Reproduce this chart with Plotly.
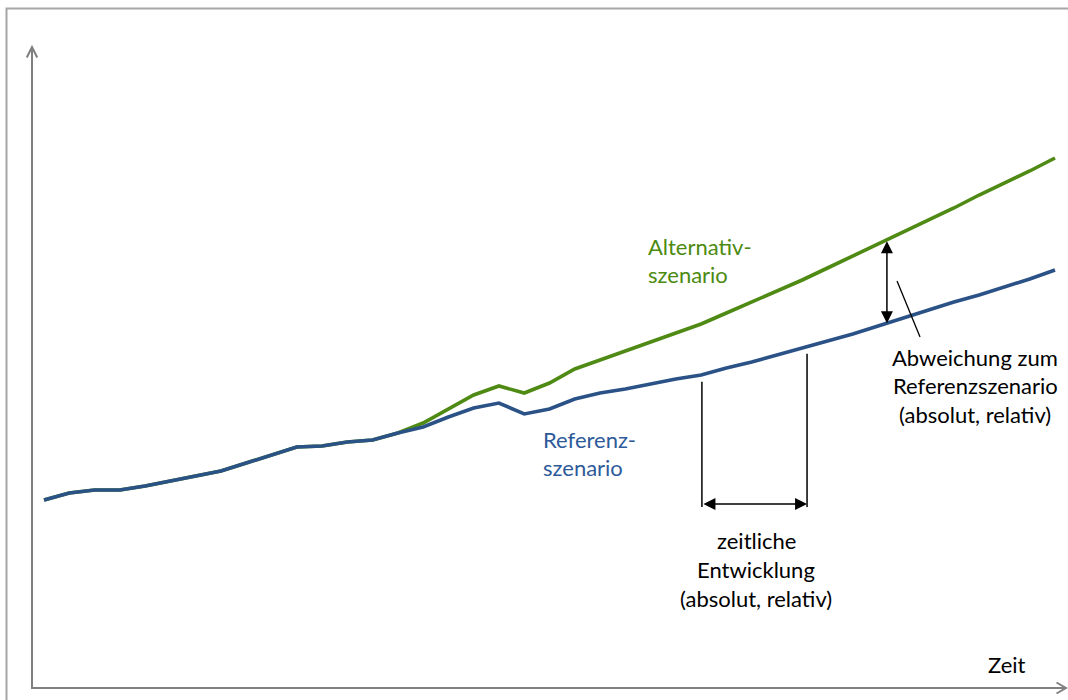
import numpy as np
import plotly.graph_objects as go

# ---- data (time index, values = arbitrary units) ----
time_idx = list(range(41))
referenz = [188, 195, 198, 198, 202, 207, 212, 217, 225, 233, 241, 242, 246, 248, 255, 261, 271, 280, 285, 274,
            279, 289, 295, 299, 304, 309, 313, 320, 326, 333, 340, 347, 354, 362, 370, 378, 386, 393, 401, 409, 418]
alternativ = [188, 195, 198, 198, 202, 207, 212, 217, 225, 233, 241, 242, 246, 248, 255, 265, 279, 293, 302, 295,
              305, 319, 328, 337, 346, 355, 364, 375, 386, 397, 408, 420, 432, 444, 456, 468, 480, 493, 505, 517, 530]

label_alt = ["Alternativ-", "szenario"]
label_ref = ["Referenz-", "szenario"]
label_abw = ["Abweichung zum", "Referenzszenario", "(absolut, relativ)"]
label_zeit = ["zeitliche", "Entwicklung", "(absolut, relativ)"]
label_x = "Zeit"

W, H = 1068, 700
BLUE = "#2b5286"
GREEN = "#4f8a14"
BLUE_TXT = "#2e5a9a"
GREEN_TXT = "#4c8a10"
AXIS = "#808080"
FONT = "Lato"
FS = 22

fig = go.Figure()
fig.add_trace(go.Scatter(x=time_idx, y=alternativ, mode="lines",
                         line=dict(color=GREEN, width=3.6), hoverinfo="skip"))
fig.add_trace(go.Scatter(x=time_idx, y=referenz, mode="lines",
                         line=dict(color=BLUE, width=3.6), hoverinfo="skip"))

ref_arr = np.array(referenz, dtype=float)
alt_arr = np.array(alternativ, dtype=float)
t_arr = np.array(time_idx, dtype=float)

def px2paper_x(p):
    return p / W

def px2paper_y(p):
    return 1 - p / H

shapes = []
# outer frame (left and top edges visible)
shapes.append(dict(type="path", xref="paper", yref="paper",
                   path=f"M {px2paper_x(6.5)} {px2paper_y(702)} L {px2paper_x(6.5)} {px2paper_y(8.5)} L {px2paper_x(1070)} {px2paper_y(8.5)}",
                   line=dict(color="#a6a6a6", width=2)))
# axes with open arrowheads
shapes.append(dict(type="path", xref="paper", yref="paper",
                   path=f"M {px2paper_x(32)} {px2paper_y(47)} L {px2paper_x(32)} {px2paper_y(688)} L {px2paper_x(1066)} {px2paper_y(688)}",
                   line=dict(color=AXIS, width=2)))
shapes.append(dict(type="path", xref="paper", yref="paper",
                   path=f"M {px2paper_x(26.8)} {px2paper_y(57.5)} L {px2paper_x(32)} {px2paper_y(47)} L {px2paper_x(37.2)} {px2paper_y(57.5)}",
                   line=dict(color=AXIS, width=2)))
shapes.append(dict(type="path", xref="paper", yref="paper",
                   path=f"M {px2paper_x(1056.5)} {px2paper_y(682.5)} L {px2paper_x(1066)} {px2paper_y(688)} L {px2paper_x(1056.5)} {px2paper_y(693.5)}",
                   line=dict(color=AXIS, width=2)))

# temporal development markers
t_left, t_right = 26.03, 30.19
y_bottom = 181
for t in (t_left, t_right):
    top = float(np.interp(t, t_arr, ref_arr)) - 7
    shapes.append(dict(type="line", xref="x", yref="y", x0=t, x1=t, y0=y_bottom, y1=top,
                       line=dict(color="black", width=1.5)))

# leader line for deviation label
shapes.append(dict(type="line", xref="x", yref="y", x0=33.75, y0=407, x1=34.66, y1=351,
                   line=dict(color="black", width=1.3)))

annotations = []
# horizontal double arrow
annotations.append(dict(x=t_right, y=184, ax=t_left, ay=184, xref="x", yref="y", axref="x", ayref="y",
                        text="", showarrow=True, arrowhead=2, startarrowhead=2, arrowside="end+start",
                        arrowsize=1.6, startarrowsize=1.6, arrowwidth=1.5, arrowcolor="black",
                        standoff=0, startstandoff=0))
# vertical double arrow
t_dev = 33.35
y_alt = float(np.interp(t_dev, t_arr, alt_arr))
y_ref = float(np.interp(t_dev, t_arr, ref_arr))
annotations.append(dict(x=t_dev, y=y_ref, ax=t_dev, ay=y_alt, xref="x", yref="y", axref="x", ayref="y",
                        text="", showarrow=True, arrowhead=2, startarrowhead=2, arrowside="end+start",
                        arrowsize=1.6, startarrowsize=1.6, arrowwidth=1.5, arrowcolor="black",
                        standoff=0, startstandoff=0))

def add_lines(lines, x_px, y_px_list, anchor, color):
    for txt, yp in zip(lines, y_px_list):
        annotations.append(dict(x=px2paper_x(x_px), y=px2paper_y(yp), xref="paper", yref="paper",
                                text=txt, showarrow=False, xanchor=anchor, yanchor="middle",
                                font=dict(family=FONT, size=FS, color=color)))

add_lines(label_alt, 646, [246, 275], "left", GREEN_TXT)
add_lines(label_ref, 541, [439, 467], "left", BLUE_TXT)
add_lines(label_abw, 975, [357, 386, 414], "center", "black")
add_lines(label_zeit, 756, [540, 569, 598], "center", "black")
add_lines([label_x], 1007, [664], "center", "black")

x0 = -44 / 25.275
x1 = (W - 44) / 25.275
fig.update_layout(
    width=W, height=H, margin=dict(l=0, r=0, t=0, b=0, pad=0),
    paper_bgcolor="white", plot_bgcolor="white", showlegend=False,
    xaxis=dict(range=[x0, x1], visible=False, fixedrange=True),
    yaxis=dict(range=[-12, 688], visible=False, fixedrange=True),
    shapes=shapes, annotations=annotations,
)

fig.write_html("out.html", config={"displayModeBar": False, "staticPlot": True},
               post_script="document.body.style.margin='0';document.body.style.overflow='hidden';")
